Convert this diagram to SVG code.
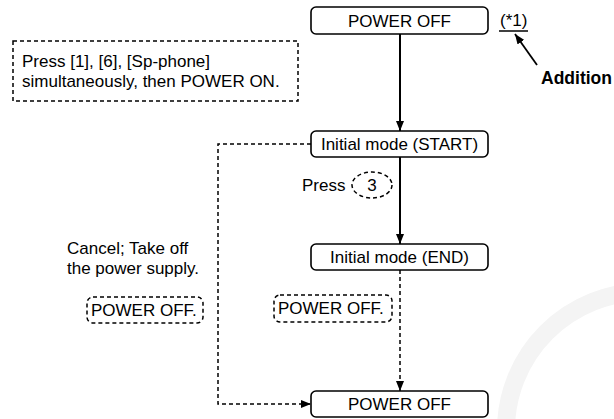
<svg xmlns="http://www.w3.org/2000/svg" width="614" height="419" viewBox="0 0 614 419">
<defs>
<marker id="ah" viewBox="0 0 10 8" refX="10" refY="4" markerWidth="10" markerHeight="8" markerUnits="userSpaceOnUse" orient="auto">
<path d="M0,0 L10,4 L0,8 Z" fill="#000"/>
</marker>
</defs>
<style>
text{font-family:"Liberation Sans",Arial,sans-serif;fill:#000}
.lbl{font-size:17px}
.box{fill:#fff;stroke:#000;stroke-width:1.6}
.dbox{fill:none;stroke:#000;stroke-width:1.5;stroke-dasharray:4 3}
.solid{fill:none;stroke:#000;stroke-width:2}
.dash{fill:none;stroke:#000;stroke-width:1.5;stroke-dasharray:4 3}
</style>
<rect width="614" height="419" fill="#fff"/>
<circle cx="644" cy="430" r="138" fill="none" stroke="#f4f4f4" stroke-width="18"/>
<g id="connectors">
<line class="solid" x1="400" y1="34" x2="400" y2="131" marker-end="url(#ah)"/>
<line class="solid" x1="400" y1="157" x2="400" y2="244" marker-end="url(#ah)"/>
<line class="dash" x1="400" y1="270" x2="400" y2="391" marker-end="url(#ah)"/>
<polyline class="dash" points="311,144 218,144 218,404 311,404" marker-end="url(#ah)"/>
<line x1="537" y1="65" x2="515" y2="34" stroke="#000" stroke-width="1.8" marker-end="url(#ah)"/>
</g>
<g id="n_power_off_top">
<rect class="box" x="311" y="7" width="177" height="27" rx="5"/>
<text class="lbl" x="399.5" y="26.5" text-anchor="middle">POWER OFF</text>
</g>
<g id="n_note1">
<text class="lbl" x="500" y="26">(*1)</text>
<line x1="499" y1="31" x2="528" y2="31" stroke="#000" stroke-width="1.5"/>
</g>
<g id="n_addition">
<text x="541" y="84" font-size="17.5" font-weight="bold">Addition</text>
</g>
<g id="n_press_note">
<rect class="dbox" x="13" y="41" width="285" height="60"/>
<text class="lbl" x="22" y="67">Press [1], [6], [Sp-phone]</text>
<text class="lbl" x="22" y="87">simultaneously, then POWER ON.</text>
</g>
<g id="n_start">
<rect class="box" x="311" y="131" width="177" height="26" rx="5"/>
<text class="lbl" x="399.5" y="150" text-anchor="middle">Initial mode (START)</text>
</g>
<g id="n_press3">
<text class="lbl" x="302" y="191">Press</text>
<ellipse cx="372" cy="185" rx="20" ry="13" class="dbox"/>
<text class="lbl" x="372" y="191" text-anchor="middle">3</text>
</g>
<g id="n_end">
<rect class="box" x="311" y="244" width="177" height="26" rx="5"/>
<text class="lbl" x="399.5" y="263" text-anchor="middle">Initial mode (END)</text>
</g>
<g id="n_cancel">
<text class="lbl" x="67" y="254">Cancel; Take off</text>
<text class="lbl" x="67" y="274">the power supply.</text>
</g>
<g id="n_pwroff_left">
<rect class="dbox" x="87" y="297" width="116" height="26" rx="6"/>
<text class="lbl" x="91" y="316">POWER OFF.</text>
</g>
<g id="n_pwroff_mid">
<rect class="dbox" x="274" y="295" width="118" height="27" rx="6"/>
<text class="lbl" x="278" y="314">POWER OFF.</text>
</g>
<g id="n_power_off_bottom">
<rect class="box" x="311" y="391" width="177" height="26" rx="5"/>
<text class="lbl" x="399.5" y="410" text-anchor="middle">POWER OFF</text>
</g>
</svg>
